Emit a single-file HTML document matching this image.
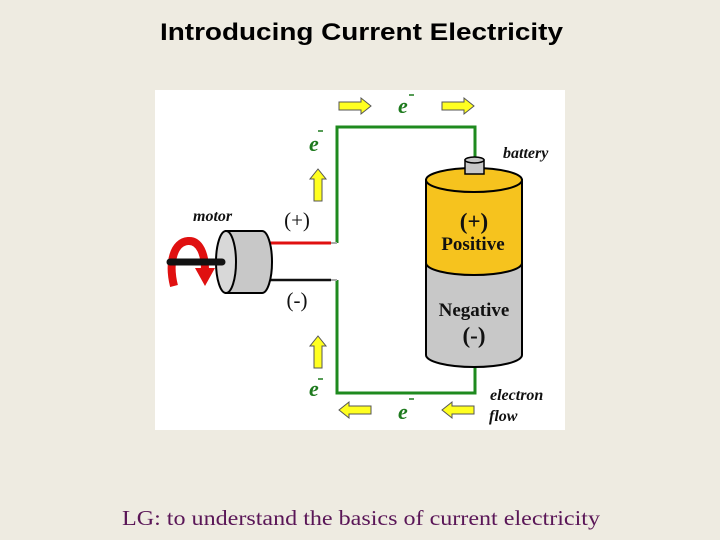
<!DOCTYPE html>
<html><head><meta charset="utf-8"><style>
html,body{margin:0;padding:0;background:#eeebe1;}
svg{display:block}
</style></head><body>
<svg width="720" height="540" viewBox="0 0 720 540" xmlns="http://www.w3.org/2000/svg">
<rect width="720" height="540" fill="#eeebe1"/>
<text x="160" y="40" font-family="Liberation Sans, sans-serif" font-weight="bold" font-size="24" textLength="403" lengthAdjust="spacingAndGlyphs" fill="#000">Introducing Current Electricity</text>
<rect x="155" y="90" width="410" height="340" fill="#fff"/>
<!-- wires -->
<polyline points="337,243 337,127 475,127 475,160" fill="none" stroke="#1e8a1e" stroke-width="3"/>
<polyline points="337,280 337,393 475,393 475,365" fill="none" stroke="#1e8a1e" stroke-width="3"/>
<line x1="270" y1="243" x2="331" y2="243" stroke="#e01010" stroke-width="3"/>
<line x1="270" y1="280" x2="331" y2="280" stroke="#111" stroke-width="2.5"/>
<line x1="331" y1="243" x2="337" y2="243" stroke="#aaa" stroke-width="2"/>
<line x1="331" y1="280" x2="337" y2="280" stroke="#aaa" stroke-width="2"/>
<!-- battery -->
<path d="M426,263 L426,355 A48,12 0 0 0 522,355 L522,263 Z" fill="#c8c8c8" stroke="#000" stroke-width="2"/>
<path d="M426,180 L426,263 A48,12 0 0 0 522,263 L522,180 Z" fill="#f6c31e" stroke="#000" stroke-width="2"/>
<ellipse cx="474" cy="180" rx="48" ry="12" fill="#f6c31e" stroke="#000" stroke-width="2"/>
<rect x="465" y="160" width="19" height="14" fill="#c8c8c8" stroke="#000" stroke-width="1.5"/>
<ellipse cx="474.5" cy="160" rx="9.5" ry="3" fill="#c8c8c8" stroke="#000" stroke-width="1.5"/>
<g font-family="Liberation Serif, serif" font-weight="bold" text-anchor="middle" fill="#111">
<text x="474" y="229" font-size="23">(+)</text>
<text x="473" y="250" font-size="19">Positive</text>
<text x="474" y="316" font-size="19">Negative</text>
<text x="474" y="343" font-size="23">(-)</text>
<text x="297" y="227" font-size="21" font-weight="normal">(+)</text>
<text x="297" y="307" font-size="21" font-weight="normal">(-)</text>
</g>
<g font-family="Liberation Serif, serif" font-weight="bold" font-style="italic" font-size="16" fill="#111">
<text x="503" y="158">battery</text>
<text x="193" y="221">motor</text>
<text x="490" y="400">electron</text>
<text x="489" y="421">flow</text>
</g>
<!-- e- labels -->
<g font-family="Liberation Serif, serif" font-weight="bold" font-style="italic" font-size="22" fill="#1e7a1e">
<text x="398" y="113">e</text><text x="309" y="151">e</text>
<text x="309" y="396">e</text><text x="398" y="419">e</text>
</g>
<g stroke="#1e7a1e" stroke-width="1.5">
<line x1="409" y1="95" x2="414" y2="95"/><line x1="318" y1="131" x2="323" y2="131"/>
<line x1="318" y1="379" x2="323" y2="379"/><line x1="409" y1="399" x2="414" y2="399"/>
</g>
<!-- motor -->
<path d="M226,231 L262,231 A10,31 0 0 1 262,293 L226,293 Z" fill="#c8c8c8" stroke="#000" stroke-width="2"/>
<ellipse cx="226" cy="262" rx="10" ry="31" fill="#d8d8d8" stroke="#000" stroke-width="2"/>
<path d="M174,286 C168,262 174,242 188,241 C200,240 205,255 205,270" fill="none" stroke="#e01010" stroke-width="8"/>
<line x1="170" y1="262" x2="222" y2="262" stroke="#111" stroke-width="7" stroke-linecap="round"/>
<polygon points="195,268 215,268 205,286" fill="#e01010"/>
<!-- arrows -->
<g fill="#ffff20" stroke="#555" stroke-width="1">
<polygon points="339,102 361,102 361,98 371,106 361,114 361,110 339,110"/>
<polygon points="442,102 464,102 464,98 474,106 464,114 464,110 442,110"/>
<polygon points="371,406 349,406 349,402 339,410 349,418 349,414 371,414"/>
<polygon points="474,406 452,406 452,402 442,410 452,418 452,414 474,414"/>
<polygon points="314,201 314,179 310,179 318,169 326,179 322,179 322,201"/>
<polygon points="314,368 314,346 310,346 318,336 326,346 322,346 322,368"/>
</g>
<text x="122" y="525" font-family="Liberation Serif, serif" font-size="21" fill="#5a1657" textLength="478" lengthAdjust="spacingAndGlyphs">LG: to understand the basics of current electricity</text>
</svg>
</body></html>
